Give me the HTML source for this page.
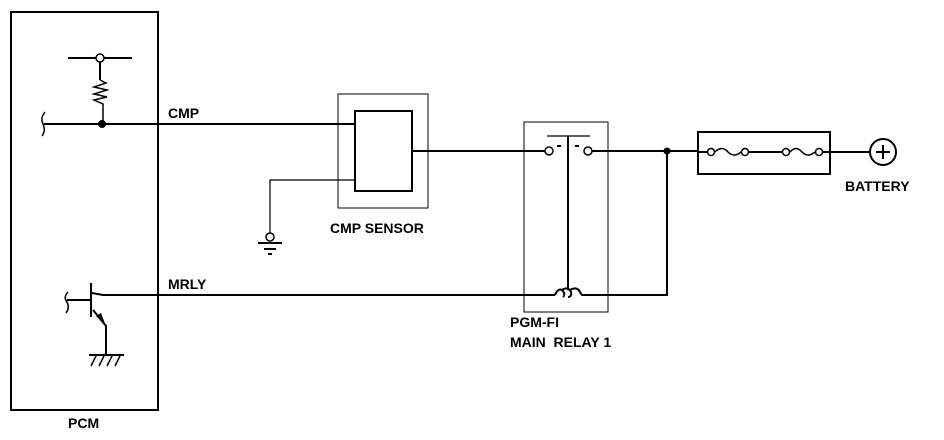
<!DOCTYPE html>
<html><head><style>
body{margin:0;background:#fff}
svg{display:block}
text{font-family:"Liberation Sans",Arial,sans-serif;font-weight:bold;font-size:14px;fill:#000}
</style></head><body>
<svg width="944" height="440" viewBox="0 0 944 440" xmlns="http://www.w3.org/2000/svg">
<g fill="none" stroke="#000" stroke-width="2">
<rect x="11" y="12" width="147" height="398"/>
<line x1="68" y1="58" x2="132" y2="58"/>
<line x1="100" y1="62" x2="100" y2="80"/>
<path d="M100 80 L106 83 L94 87 L107 90 L94 94 L107 97 L94 100 L103 104 L103 124" stroke-width="1.5"/>
<line x1="44" y1="124" x2="355" y2="124"/>
<path d="M45 112 Q40 118 43 124 Q46 131 42 136" stroke-width="1.5"/>
<line x1="91" y1="283" x2="91" y2="317"/>
<line x1="67" y1="300" x2="91" y2="300"/>
<path d="M68 292 Q63 297 67 302 Q70 308 66 313" stroke-width="1.5"/>
<path d="M92 293 L103 295 L555 295"/>
<path d="M93 310 L106 326 L106 355"/>
<line x1="89" y1="355" x2="124" y2="355"/>
<g stroke-width="1.5"><line x1="96" y1="356" x2="91" y2="366"/><line x1="104" y1="356" x2="99" y2="366"/><line x1="112" y1="356" x2="107" y2="366"/><line x1="120" y1="356" x2="115" y2="366"/></g>
<rect x="338" y="94" width="90" height="114" stroke-width="1"/>
<rect x="355" y="111" width="57" height="80"/>
<path d="M355 180 L270 180 L270 233" stroke-width="1.2"/>
<line x1="412" y1="151" x2="545" y2="151"/>
<line x1="258" y1="243" x2="282" y2="243"/>
<line x1="264" y1="249" x2="276" y2="249"/>
<line x1="268" y1="254" x2="272" y2="254"/>
<rect x="524" y="122" width="84" height="190" stroke-width="1"/>
<line x1="547" y1="136" x2="590" y2="136" stroke-width="1.2"/>
<line x1="568" y1="136" x2="568" y2="290"/>
<line x1="557" y1="146" x2="561" y2="146"/><line x1="575" y1="146" x2="579" y2="146"/>
<line x1="592" y1="151" x2="698" y2="151"/>
<path d="M555 295 Q558 288 562 290 Q566 294 563 297 M562 290 Q568 286 571 292 Q572 297 568 297 M570 290 Q577 286 580 292 L582 295 L667 295 L667 151"/>
<rect x="698" y="132" width="132" height="42"/>
<line x1="698" y1="152" x2="707" y2="152"/>
<path d="M715 152 Q722 145 728 152 Q734 158 741 152" stroke-width="1.5"/>
<line x1="749" y1="152" x2="782" y2="152"/>
<path d="M790 152 Q796 145 802 152 Q808 158 815 152" stroke-width="1.5"/>
<line x1="823" y1="152" x2="870" y2="152"/>
<circle cx="883" cy="152" r="13"/>
<line x1="876" y1="152" x2="890" y2="152"/><line x1="883" y1="145" x2="883" y2="159"/>
</g>
<g fill="#fff" stroke="#000" stroke-width="1.5">
<circle cx="100" cy="58" r="4"/>
<circle cx="270" cy="237" r="4"/>
<circle cx="549" cy="151" r="4"/>
<circle cx="588" cy="151" r="4"/>
<circle cx="711" cy="152" r="3.5"/><circle cx="745" cy="152" r="3.5"/>
<circle cx="786" cy="152" r="3.5"/><circle cx="819" cy="152" r="3.5"/>
</g>
<circle cx="102" cy="124" r="4" fill="#000"/>
<circle cx="667" cy="151" r="3.5" fill="#000"/>
<polygon points="106,326 96,316 101,313" fill="#000"/>
<text x="168" y="118">CMP</text>
<text x="168" y="289">MRLY</text>
<text x="330" y="233">CMP SENSOR</text>
<text x="510" y="327">PGM-FI</text>
<text x="510" y="347" xml:space="preserve">MAIN  RELAY 1</text>
<text x="845" y="191">BATTERY</text>
<text x="68" y="428">PCM</text>
</svg>
</body></html>
